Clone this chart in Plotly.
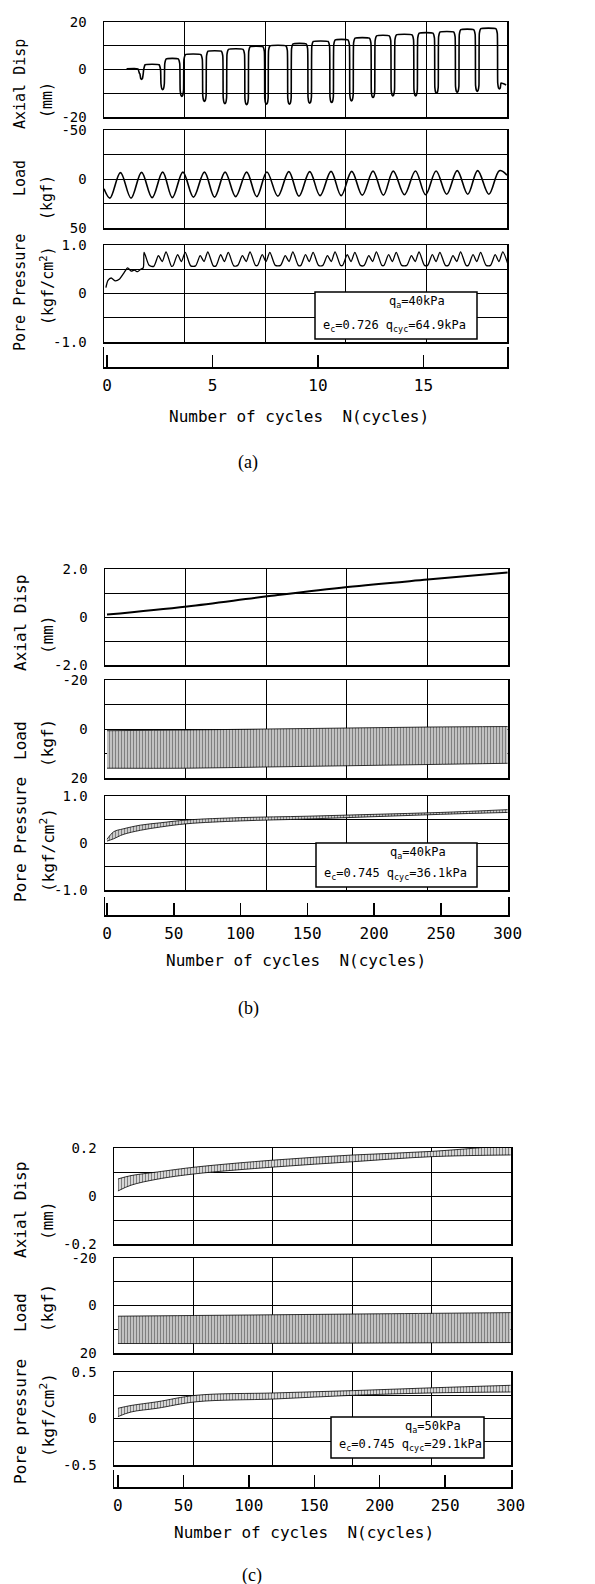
import plotly.graph_objects as go

W, H = 595, 1584
MONO = "DejaVu Sans Mono"
SERIF = "Liberation Serif"

# ---------------- data: panel (a) ----------------
a_dip_x = [1.64, 2.64, 3.55, 4.62, 5.59, 6.62, 7.56, 8.65, 9.61, 10.65, 11.59, 12.61,
           13.55, 14.63, 15.62, 16.60, 17.55, 18.60]
a_dip_y = [-4.2, -8.5, -11.3, -13.4, -14.4, -14.8, -14.6, -14.6, -14.2, -13.9, -13.2, -11.8,
           -11.1, -11.1, -10.0, -9.6, -9.2, -8.2]
a_plateau_y = [0.3, 2.0, 4.5, 6.3, 7.7, 8.5, 9.6, 10.0, 10.8, 11.8, 12.5, 13.2,
               14.2, 14.6, 15.3, 15.8, 16.8, 17.2]
a_disp_start = (0.93, 0.3)
a_disp_end = (18.92, -6.5)

a_load_peak_x = [0.64, 1.64, 2.64, 3.60, 4.62, 5.60, 6.62, 7.58, 8.62, 9.61, 10.62, 11.60,
                 12.61, 13.57, 14.62, 15.60, 16.60, 17.57, 18.60]
a_load_peak_y = [-6.5, -6.8, -7.0, -7.0, -7.0, -7.0, -7.0, -7.2, -7.5, -7.5, -7.8, -7.8,
                 -8.0, -8.0, -8.2, -8.2, -8.5, -8.5, -8.5]
a_load_trough_x = [0.14, 1.14, 2.14, 3.10, 4.10, 5.10, 6.10, 7.10, 8.10, 9.10, 10.10, 11.10,
                   12.10, 13.10, 14.10, 15.10, 16.10, 17.10, 18.10]
a_load_trough_y = [19.5, 19.5, 19.0, 19.0, 18.5, 18.5, 18.0, 18.0, 17.5, 17.5, 17.0, 17.0,
                   16.5, 16.5, 16.0, 16.0, 15.5, 15.5, 15.5]
a_load_start = (-0.14, 10.0)
a_load_end = (18.96, -4.0)

a_pore_init_x = [-0.05, 0.05, 0.2, 0.4, 0.6, 0.8, 0.98, 1.15, 1.3, 1.45, 1.6, 1.72, 1.76, 2.0]
a_pore_init_y = [0.12, 0.27, 0.32, 0.26, 0.30, 0.42, 0.53, 0.46, 0.48, 0.45, 0.50, 0.53, 0.85, 0.58]
a_pore_pk1 = [0.78, 0.80, 0.78, 0.80, 0.78, 0.80, 0.78, 0.80, 0.78, 0.80, 0.78, 0.80, 0.78, 0.80, 0.78, 0.80, 0.80]
a_pore_pk2 = [0.86, 0.85, 0.86, 0.85, 0.86, 0.85, 0.86, 0.85, 0.86, 0.85, 0.86, 0.85, 0.86, 0.85, 0.86, 0.85, 0.86]
a_pore_mid = [0.66] * 17
a_pore_base = [0.56, 0.57, 0.57, 0.57, 0.58, 0.58, 0.58, 0.58, 0.58, 0.58, 0.58, 0.58, 0.58, 0.58, 0.58, 0.58, 0.58]

# ---------------- data: panel (b) ----------------
b_disp_x = [0, 60, 120, 180, 240, 300]
b_disp_y = [0.10, 0.44, 0.86, 1.25, 1.56, 1.85]

b_load_x = [0, 60, 120, 180, 240, 300]
b_load_lo = [0.7, 0.4, 0.0, -0.4, -0.8, -1.0]
b_load_hi = [16.0, 16.0, 15.5, 15.0, 14.5, 14.0]

b_pore_x = [0, 5, 12, 25, 40, 60, 100, 150, 200, 250, 300]
b_pore_lo = [0.04, 0.09, 0.18, 0.27, 0.34, 0.41, 0.47, 0.51, 0.56, 0.61, 0.65]
b_pore_hi = [0.08, 0.24, 0.30, 0.38, 0.43, 0.49, 0.54, 0.57, 0.61, 0.65, 0.71]

# ---------------- data: panel (c) ----------------
c_disp_x = [0, 10, 30, 60, 120, 180, 240, 300]
c_disp_lo = [0.021, 0.045, 0.07, 0.093, 0.121, 0.143, 0.164, 0.171]
c_disp_hi = [0.071, 0.085, 0.10, 0.121, 0.150, 0.171, 0.186, 0.212]

c_load_x = [0, 100, 200, 300]
c_load_lo = [4.5, 4.0, 3.5, 3.0]
c_load_hi = [16.0, 16.0, 15.8, 15.6]

c_pore_x = [0, 10, 30, 60, 120, 180, 240, 300]
c_pore_lo = [0.02, 0.07, 0.11, 0.18, 0.21, 0.25, 0.275, 0.285]
c_pore_hi = [0.11, 0.14, 0.18, 0.25, 0.275, 0.30, 0.33, 0.357]

# ---------------- tick labels / texts ----------------
a_xticks = [0, 5, 10, 15]
bc_xticks = [0, 50, 100, 150, 200, 250, 300]
x_title = "Number\u00a0of\u00a0cycles\u00a0\u00a0N(cycles)"
captions = ["(a)", "(b)", "(c)"]
box_line1 = ["q<sub>a</sub>=40kPa", "q<sub>a</sub>=40kPa", "q<sub>a</sub>=50kPa"]
box_line2 = ["e<sub>c</sub>=0.726 q<sub>cyc</sub>=64.9kPa",
             "e<sub>c</sub>=0.745 q<sub>cyc</sub>=36.1kPa",
             "e<sub>c</sub>=0.745 q<sub>cyc</sub>=29.1kPa"]

# ---------------- build (a) curves from the read values ----------------
ax_d, ay_d = [a_disp_start[0]], [a_disp_start[1]]
for i, (d, v, p) in enumerate(zip(a_dip_x, a_dip_y, a_plateau_y)):
    if i > 0:
        dp = a_dip_x[i - 1]
        ax_d += [dp + 0.10, dp + 0.17]
        ay_d += [p - 2.0, p]
    ax_d += [d - 0.17, d - 0.10, d - 0.08, d - 0.04, d, d + 0.04, d + 0.08]
    ay_d += [p, p - 2.0, v + 2.5, v + 0.4, v, v + 0.4, v + 2.5]
ax_d.append(a_disp_end[0]); ay_d.append(a_disp_end[1])

pts = [a_load_start] + list(zip(a_load_peak_x, a_load_peak_y)) + \
      list(zip(a_load_trough_x, a_load_trough_y)) + [a_load_end]
pts.sort()
ax_l = [p[0] for p in pts]
ay_l = [p[1] for p in pts]

ax_p, ay_p = list(a_pore_init_x), list(a_pore_init_y)
for k, d in enumerate(a_dip_x[1:]):
    ax_p += [d - 0.42, d - 0.2, d - 0.02, d + 0.16, d + 0.42]
    ay_p += [a_pore_base[k], a_pore_pk1[k], a_pore_mid[k], a_pore_pk2[k], a_pore_base[k]]

# ---------------- geometry (pixels) ----------------
panels = [
    dict(x0=104, x1=507, xr=[-0.14, 18.96], rows=[(22, 117), (130, 228), (245, 342), (347, 367)],
         xticks=a_xticks, title_x=299, title_y=416, cap_y=462, cap_x=248,
         ylab=[("Axial Disp", 84, "(mm)", 100), ("Load", 178, "(kgf)", 198),
               ("Pore Pressure", 293, "(kgf/cm<sup>2</sup>)", 286)], ylab_size=15,
         box=(315, 477, 292, 339)),
    dict(x0=105, x1=508, xr=[-1.5, 300.3], rows=[(569, 665), (680, 778), (796, 890), (897, 915)],
         xticks=bc_xticks, title_x=296, title_y=960, cap_y=1008, cap_x=248,
         ylab=[("Axial Disp", 623, "(mm)", 635), ("Load", 741, "(kgf)", 743),
               ("Pore Pressure", 840, "(kgf/cm<sup>2</sup>)", 850)], ylab_size=16,
         box=(316, 477, 843, 887)),
    dict(x0=114, x1=511, xr=[-3.0, 300.3], rows=[(1148, 1244), (1258, 1353), (1372, 1465), (1470, 1487)],
         xticks=bc_xticks, title_x=304, title_y=1532, cap_y=1575, cap_x=252,
         ylab=[("Axial Disp", 1210, "(mm)", 1221), ("Load", 1313, "(kgf)", 1308),
               ("Pore pressure", 1422, "(kgf/cm<sup>2</sup>)", 1415)], ylab_size=16,
         box=(331, 484, 1417, 1458)),
]

yaxes_spec = [
    [dict(range=[-20, 20], tv=[-20, -10, 0, 10, 20], tt=["-20", "", "0", "", "20"]),
     dict(range=[50, -50], tv=[-50, -25, 0, 25, 50], tt=["-50", "", "0", "", "50"]),
     dict(range=[-1, 1], tv=[-1, -0.5, 0, 0.5, 1], tt=["-1.0", "", "0", "", "1.0"])],
    [dict(range=[-2, 2], tv=[-2, -1, 0, 1, 2], tt=["-2.0", "", "0", "", "2.0"]),
     dict(range=[20, -20], tv=[-20, -10, 0, 10, 20], tt=["-20", "", "0", "", "20"]),
     dict(range=[-1, 1], tv=[-1, -0.5, 0, 0.5, 1], tt=["-1.0", "", "0", "", "1.0"])],
    [dict(range=[-0.2, 0.2], tv=[-0.2, -0.1, 0, 0.1, 0.2], tt=["-0.2", "", "0", "", "0.2"]),
     dict(range=[20, -20], tv=[-20, -10, 0, 10, 20], tt=["-20", "", "0", "", "20"]),
     dict(range=[-0.5, 0.5], tv=[-0.5, -0.25, 0, 0.25, 0.5], tt=["-0.5", "", "0", "", "0.5"])],
]

fig = go.Figure()
layout = dict(width=W, height=H, margin=dict(l=0, r=0, t=0, b=0, autoexpand=False),
              paper_bgcolor="white", plot_bgcolor="white", showlegend=False)
annotations = []
shapes = []


def ax_names(idx):
    return ("xaxis" if idx == 1 else f"xaxis{idx}", "yaxis" if idx == 1 else f"yaxis{idx}",
            "x" if idx == 1 else f"x{idx}", "y" if idx == 1 else f"y{idx}")


for p, g in enumerate(panels):
    x0, x1 = g["x0"], g["x1"]
    xr = g["xr"]
    vgrid = [xr[0] + (xr[1] - xr[0]) * k / 5 for k in range(1, 5)]
    for r in range(4):
        idx = p * 4 + r + 1
        xk, yk, xa, ya = ax_names(idx)
        top, bot = g["rows"][r]
        xdom = [x0 / W, x1 / W]
        ydom = [1 - bot / H, 1 - top / H]
        if r < 3:
            s = yaxes_spec[p][r]
            layout[xk] = dict(domain=xdom, range=xr, anchor=ya, showline=True, mirror=True,
                              linecolor="black", linewidth=1.5, showgrid=True, gridcolor="black",
                              gridwidth=1, tickvals=vgrid, showticklabels=False, ticks="",
                              zeroline=False, fixedrange=True, automargin=False)
            layout[yk] = dict(domain=ydom, range=s["range"], anchor=xa, showline=True, mirror=True,
                              linecolor="black", linewidth=1.5, showgrid=True, gridcolor="black",
                              gridwidth=1, tickvals=s["tv"], ticktext=s["tt"], ticks="",
                              tickfont=dict(family=MONO, size=14, color="black"),
                              ticklabelstandoff=13, zeroline=False, fixedrange=True,
                              automargin=False)
        else:
            layout[xk] = dict(domain=xdom, range=xr, anchor=ya, showline=True, mirror=False,
                              linecolor="black", linewidth=1.5, showgrid=False,
                              tickvals=g["xticks"], ticktext=[str(t) for t in g["xticks"]],
                              ticks="inside", ticklen=12, tickwidth=1.5, tickcolor="black",
                              tickfont=dict(family=MONO, size=16, color="black"),
                              ticklabelstandoff=3, zeroline=False, fixedrange=True,
                              automargin=False)
            layout[yk] = dict(domain=ydom, range=[0, 1], anchor=xa, showline=True, mirror=True,
                              linecolor="black", linewidth=1.5, showgrid=False,
                              showticklabels=False, ticks="", zeroline=False, fixedrange=True,
                              automargin=False)
            fig.add_trace(go.Scatter(x=[None], y=[None], xaxis=xa, yaxis=ya, mode="lines"))

    # y-axis titles
    for r, (t1, c1, t2, c2) in enumerate(g["ylab"]):
        annotations.append(dict(x=20 / W, y=1 - c1 / H, xref="paper", yref="paper", text=t1,
                                textangle=-90, showarrow=False, xanchor="center", yanchor="middle",
                                font=dict(family=MONO, size=g["ylab_size"], color="black")))
        annotations.append(dict(x=47 / W, y=1 - c2 / H, xref="paper", yref="paper", text=t2,
                                textangle=-90, showarrow=False, xanchor="center", yanchor="middle",
                                font=dict(family=MONO, size=g["ylab_size"], color="black")))
    # x title and caption
    annotations.append(dict(x=g["title_x"] / W, y=1 - g["title_y"] / H, xref="paper",
                            yref="paper", text=x_title, showarrow=False, xanchor="center",
                            yanchor="middle", font=dict(family=MONO, size=16, color="black")))
    annotations.append(dict(x=g["cap_x"] / W, y=1 - g["cap_y"] / H, xref="paper", yref="paper",
                            text=captions[p], showarrow=False, xanchor="center", yanchor="middle",
                            font=dict(family=SERIF, size=18, color="black")))
    # info box
    bx0, bx1, by0, by1 = g["box"]
    shapes.append(dict(type="rect", xref="paper", yref="paper", x0=bx0 / W, x1=bx1 / W,
                       y0=1 - by1 / H, y1=1 - by0 / H, fillcolor="white",
                       line=dict(color="black", width=1.5), layer="above"))
    annotations.append(dict(x=(bx0 + 8 + 64) / W, y=1 - (by0 + 10) / H, xref="paper", yref="paper",
                            text=box_line1[p], showarrow=False, xanchor="left", yanchor="middle",
                            font=dict(family=MONO, size=12, color="black")))
    annotations.append(dict(x=(bx0 + 6) / W, y=1 - (by1 - 13) / H, xref="paper", yref="paper",
                            text=box_line2[p], showarrow=False, xanchor="left", yanchor="middle",
                            font=dict(family=MONO, size=12, color="black")))

# ---------------- traces ----------------
fig.add_trace(go.Scatter(x=ax_d, y=ay_d, xaxis="x", yaxis="y", mode="lines",
                         line=dict(color="black", width=1.6, shape="spline", smoothing=0.4)))
fig.add_trace(go.Scatter(x=ax_l, y=ay_l, xaxis="x2", yaxis="y2", mode="lines",
                         line=dict(color="black", width=1.6, shape="spline", smoothing=1.0)))
fig.add_trace(go.Scatter(x=ax_p, y=ay_p, xaxis="x3", yaxis="y3", mode="lines",
                         line=dict(color="black", width=1.3, shape="spline", smoothing=0.7)))

fig.add_trace(go.Scatter(x=b_disp_x, y=b_disp_y, xaxis="x5", yaxis="y5", mode="lines",
                         line=dict(color="black", width=2, shape="spline")))


def band(x, lo, hi, xa, ya, size=3, sol=0.5):
    fig.add_trace(go.Scatter(x=x, y=lo, xaxis=xa, yaxis=ya, mode="lines",
                             line=dict(color="black", width=0.8, shape="spline")))
    fig.add_trace(go.Scatter(x=x, y=hi, xaxis=xa, yaxis=ya, mode="lines",
                             line=dict(color="black", width=0.8, shape="spline"),
                             fill="tonexty", fillcolor="rgba(0,0,0,0)",
                             fillpattern=dict(shape="|", size=size, solidity=sol,
                                              fgcolor="black", bgcolor="white")))


band(b_load_x, b_load_lo, b_load_hi, "x6", "y6", size=3, sol=0.65)
band(b_pore_x, b_pore_lo, b_pore_hi, "x7", "y7", size=3, sol=0.6)
band(c_disp_x, c_disp_lo, c_disp_hi, "x9", "y9", size=3, sol=0.55)
band(c_load_x, c_load_lo, c_load_hi, "x10", "y10", size=3, sol=0.65)
band(c_pore_x, c_pore_lo, c_pore_hi, "x11", "y11", size=3, sol=0.55)

layout["annotations"] = annotations
layout["shapes"] = shapes
fig.update_layout(**layout)
fig.write_html("out.html", config={"displayModeBar": False, "staticPlot": True})
